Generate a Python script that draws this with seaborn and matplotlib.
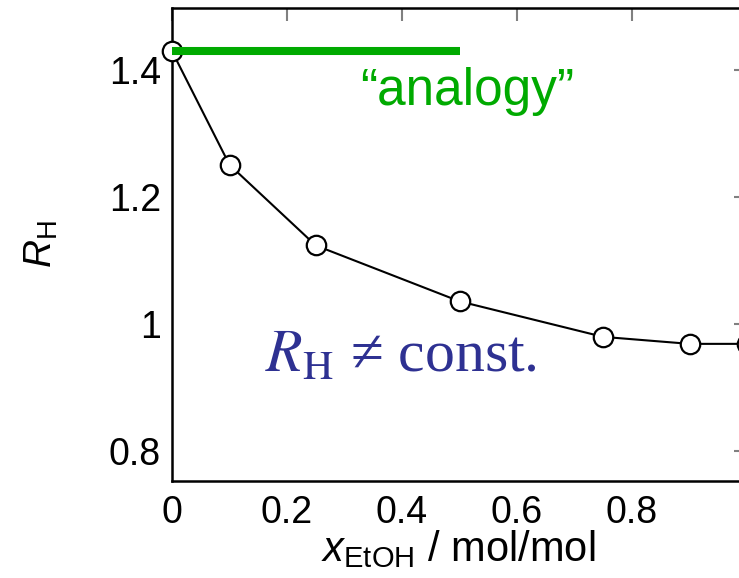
import matplotlib
matplotlib.use("Agg")
import matplotlib.pyplot as plt
import seaborn as sns
import pandas as pd
from matplotlib.ticker import FuncFormatter

# data
x_etoh = [0.0, 0.1, 0.25, 0.5, 0.75, 0.9, 1.0]
r_h = [1.43, 1.251, 1.124, 1.036, 0.980, 0.969, 0.969]
analogy_x = [0.0, 0.5]
analogy_y = [1.43, 1.43]
x_ticks = [0, 0.2, 0.4, 0.6, 0.8, 1.0]
y_ticks = [0.8, 1.0, 1.2, 1.4]

sns.set_theme(style="white")
plt.rcParams['font.family'] = ['Liberation Sans', 'DejaVu Sans']
plt.rcParams['mathtext.fontset'] = 'custom'
plt.rcParams['mathtext.rm'] = 'Liberation Sans'
plt.rcParams['mathtext.it'] = 'Liberation Sans:italic'

W, H = 739, 578
fig = plt.figure(figsize=(W / 100, H / 100), dpi=100)
fig.patch.set_facecolor('white')
left, right, top, bottom = 172, 747, 8, 481
ax = fig.add_axes([left / W, 1 - bottom / H, (right - left) / W, (bottom - top) / H])
ax.set_facecolor('white')

df = pd.DataFrame({'x': x_etoh, 'y': r_h})
dfa = pd.DataFrame({'x': analogy_x, 'y': analogy_y})

sns.lineplot(data=df, x='x', y='y', ax=ax, color='black', linewidth=1.5,
             marker='o', markersize=14, markerfacecolor='white',
             markeredgecolor='black', markeredgewidth=1.6, zorder=3, clip_on=False)
sns.lineplot(data=dfa, x='x', y='y', ax=ax, color='#00aa00', linewidth=5.8,
             solid_capstyle='butt', zorder=4)

ax.set_xlim(0, 1)
ax.set_ylim(0.753, 1.498)
ax.set_xticks(x_ticks)
ax.set_yticks(y_ticks)
fmt = FuncFormatter(lambda v, p: ('%g' % round(v, 2)))
ax.xaxis.set_major_formatter(fmt)
ax.yaxis.set_major_formatter(fmt)
ax.tick_params(direction='in', length=9.5, width=1.5, color='#808080',
               top=True, right=True, labelsize=27, labelcolor='black')
ax.tick_params(axis='x', pad=10)
ax.tick_params(axis='y', pad=8)
for s in ax.spines.values():
    s.set_color('black')
    s.set_linewidth(1.8)

ax.set_xlabel(r'$x_{\mathrm{EtOH}}$ / mol/mol', fontsize=30, color='black')
ax.set_ylabel(r'$R_{\mathrm{H}}$', fontsize=28, color='black')
ax.xaxis.set_label_coords(0.498, -0.10)
ax.yaxis.set_label_coords(-0.195, 0.5)

ax.text(0.513, 1.3445, '“analogy”', color='#00aa00', fontsize=37,
        ha='center', va='baseline')
ax.text(0.162, 0.925, r'$R_{\mathrm{H}}$ ≠ const.', color='#2e3192', fontsize=43,
        ha='left', va='baseline', family=['Liberation Serif', 'DejaVu Serif'],
        math_fontfamily='stix')

fig.savefig('out.png', dpi=100, facecolor='white')
